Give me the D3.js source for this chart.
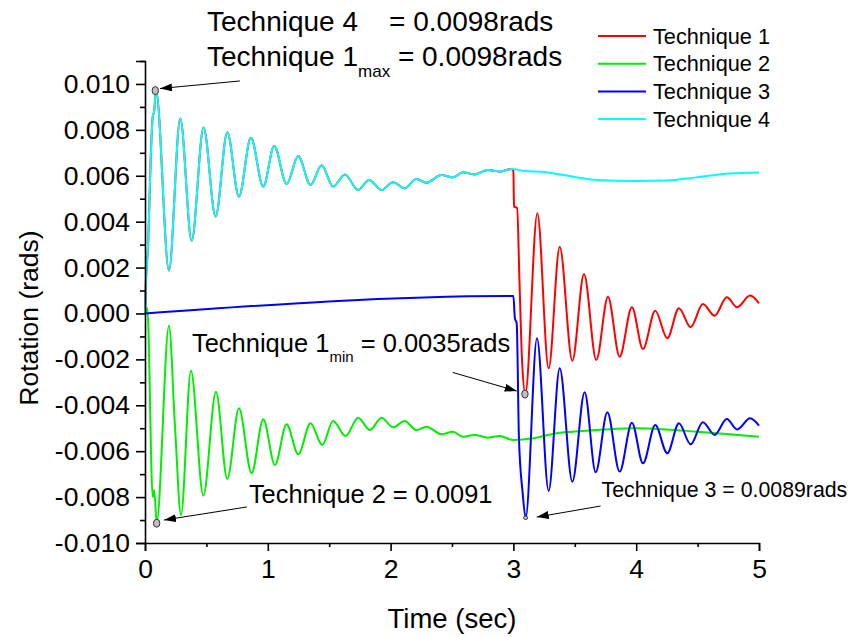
<!DOCTYPE html>
<html>
<head>
<meta charset="utf-8">
<script src="https://cdn.jsdelivr.net/npm/d3@7"></script>
<style>
  body { margin: 0; background: #fff; }
  svg { display: block; font-family: "Liberation Sans", Arial, sans-serif; }
  text { white-space: pre; }
</style>
</head>
<body>
<svg id="chart" width="853" height="637"></svg>
<script>
// ---------------- data ----------------
const seriesNames = ["Technique 1", "Technique 2", "Technique 3", "Technique 4"];

// Technique 4 (cyan)
const t4 = [0, 0.005, 0.027, 0.046, 0.063, 0.074, 0.09, 0.195, 0.287, 0.38, 0.477, 0.575, 0.67, 0.765,
  0.862, 0.963, 1.052, 1.153, 1.248, 1.348, 1.438, 1.532, 1.627, 1.736, 1.825, 1.926, 2.02, 2.115,
  2.21, 2.292, 2.414, 2.508, 2.59, 2.685, 2.793, 2.888, 2.984, 3.078, 3.268, 3.485, 3.675, 4.0,
  4.245, 4.489, 4.76, 5.0];
const v4 = [0, 0.0010, 0.0032, 0.0067, 0.00857, 0.0088, 0.0097, 0.00187, 0.0085, 0.00317, 0.0081,
  0.00422, 0.0079, 0.00509, 0.00766, 0.00553, 0.0073, 0.00564, 0.00686, 0.0056, 0.00646, 0.00553,
  0.00606, 0.00538, 0.00582, 0.00538, 0.00572, 0.00546, 0.00586, 0.0057, 0.00603, 0.00593, 0.00615,
  0.00606, 0.00625, 0.00618, 0.0063, 0.00622, 0.00615, 0.00596, 0.00582, 0.00577, 0.00579, 0.00593,
  0.0061, 0.00614];

// Technique 1 (red): identical to Technique 4 up to t = 2.984 s, then:
const t1After = [3.0, 3.005, 3.03, 3.05, 3.07, 3.097, 3.195, 3.287, 3.377, 3.48, 3.575, 3.675, 3.77,
  3.865, 3.965, 4.055, 4.155, 4.253, 4.348, 4.443, 4.543, 4.638, 4.738, 4.822, 4.928, 5.0];
const v1After = [0.0062, 0.00465, 0.0046, 0.0013, -0.0020, -0.0035, 0.00437, -0.00239, 0.00291,
  -0.00206, 0.00172, -0.00203, 0.00073, -0.00188, 0.00027, -0.00155, 0.00012, -0.00108, 0.00023,
  -0.0006, 0.00041, -0.0001, 0.00071, 0.00027, 0.00078, 0.00044];

// Technique 2 (green)
const t2 = [0, 0.019, 0.063, 0.075, 0.095, 0.195, 0.245, 0.293, 0.374, 0.475, 0.578, 0.67, 0.765,
  0.868, 0.963, 1.058, 1.153, 1.248, 1.348, 1.443, 1.532, 1.633, 1.736, 1.831, 1.926, 2.02, 2.115,
  2.21, 2.292, 2.414, 2.508, 2.59, 2.685, 2.793, 2.888, 2.997, 3.16, 3.322, 3.62, 4.0, 4.245, 4.489,
  4.733, 5.0];
const v2 = [0, 0.00023, -0.0080, -0.0077, -0.0091, -0.00054, -0.0050, -0.00878, -0.0025, -0.00794,
  -0.00341, -0.00721, -0.00413, -0.00696, -0.00461, -0.0066, -0.00483, -0.00614, -0.00478, -0.00573,
  -0.00468, -0.00534, -0.00454, -0.00508, -0.00454, -0.00496, -0.00468, -0.00508, -0.00493, -0.00526,
  -0.00515, -0.00537, -0.00529, -0.00541, -0.00534, -0.00551, -0.00544, -0.00525, -0.0051, -0.005,
  -0.00505, -0.00515, -0.00525, -0.00537];

// Technique 3 (blue)
const t3 = [0, 2.99, 3.0, 3.012, 3.027, 3.045, 3.075, 3.1, 3.192, 3.287, 3.377, 3.48, 3.58, 3.67,
  3.765, 3.865, 3.965, 4.055, 4.155, 4.253, 4.348, 4.443, 4.543, 4.638, 4.738, 4.822, 4.928, 5.0];
const v3 = [0, 0.00076, 0.00076, -0.0002, -0.00043, -0.0054, -0.0078, -0.0089, -0.00108, -0.00773,
  -0.00239, -0.00733, -0.00343, -0.00692, -0.0043, -0.00689, -0.00476, -0.00653, -0.00486, -0.00609,
  -0.00478, -0.0057, -0.00474, -0.00529, -0.0046, -0.00505, -0.00457, -0.00489];

// Axis ticks
const xTicks = [0, 1, 2, 3, 4, 5];
const xMinorTicks = [0.5, 1.5, 2.5, 3.5, 4.5];
const yTicks = [-0.010, -0.008, -0.006, -0.004, -0.002, 0.000, 0.002, 0.004, 0.006, 0.008, 0.010];
const yMinorTicks = [-0.009, -0.007, -0.005, -0.003, -0.001, 0.001, 0.003, 0.005, 0.007, 0.009, 0.011];

// Marked extreme points (data coordinates)
const markerT = [0.084, 3.094, 0.095, 3.1];
const markerV = [0.00971, -0.00351, -0.00914, -0.0089];

// ---------------- chart ----------------
const svg = d3.select("#chart");
const x = d3.scaleLinear().domain([0, 5]).range([145, 759]);
const y = d3.scaleLinear().domain([-0.010, 0.011]).range([543, 61]);

const colors = ["#ff0000", "#00ee00", "#0000ff", "#00ffff"];

const idx4End = t4.indexOf(2.984);
const t1 = t4.slice(0, idx4End + 1).concat(t1After);
const v1 = v4.slice(0, idx4End + 1).concat(v1After);

const series = [
  { t: t1, v: v1 },
  { t: t2, v: v2 },
  { t: t3, v: v3 },
  { t: t4, v: v4 }
];

const line = d3.line()
  .x(d => x(d[0]))
  .y(d => y(d[1]))
  .curve(d3.curveMonotoneX);

series.forEach((s, i) => {
  svg.append("path")
    .datum(s.t.map((tt, k) => [tt, s.v[k]]))
    .attr("fill", "none")
    .attr("stroke", colors[i])
    .attr("stroke-width", 2)
    .attr("stroke-linejoin", "round")
    .attr("d", line);
});

// axes
const fmt = v => d3.format(".3f")(v).replace("\u2212", "-");
const yAxis = d3.axisLeft(y).tickValues(yTicks).tickFormat(fmt).tickSize(9).tickPadding(6);
const yMinor = d3.axisLeft(y).tickValues(yMinorTicks).tickFormat("").tickSize(5);
const xAxis = d3.axisBottom(x).tickValues(xTicks).tickFormat(d3.format("d")).tickSize(8).tickPadding(8);
const xMinor = d3.axisBottom(x).tickValues(xMinorTicks).tickFormat("").tickSize(4);

function styleAxis(g, fs) {
  g.select(".domain").attr("stroke", "#000").attr("stroke-width", 1.6);
  g.selectAll(".tick line").attr("stroke", "#000").attr("stroke-width", 1.6);
  g.selectAll(".tick text").attr("fill", "#000").style("font-size", fs + "px")
    .style("font-family", '"Liberation Sans", Arial, sans-serif');
}

const gy = svg.append("g").attr("transform", `translate(${x(0)},0)`).call(yAxis);
gy.call(g => styleAxis(g, 26.5));
const gym = svg.append("g").attr("transform", `translate(${x(0)},0)`).call(yMinor);
gym.call(g => styleAxis(g, 26.5));
gym.select(".domain").remove();

const gx = svg.append("g").attr("transform", `translate(0,${y(-0.010)})`).call(xAxis);
gx.call(g => styleAxis(g, 26.5));
const gxm = svg.append("g").attr("transform", `translate(0,${y(-0.010)})`).call(xMinor);
gxm.call(g => styleAxis(g, 26.5));
gxm.select(".domain").remove();

// axis titles
svg.append("text")
  .attr("x", (x(0) + x(5)) / 2).attr("y", 628)
  .attr("text-anchor", "middle").style("font-size", "27.5px")
  .text("Time (sec)");
svg.append("text")
  .attr("transform", `translate(38,${(y(-0.010) + y(0.011)) / 2 + 16}) rotate(-90)`)
  .attr("text-anchor", "middle").style("font-size", "26.5px")
  .text("Rotation (rads)");

// legend
const legend = svg.append("g").attr("transform", "translate(598,36)");
seriesNames.forEach((name, i) => {
  const row = legend.append("g").attr("transform", `translate(0,${i * 27.7})`);
  row.append("line").attr("x1", 0).attr("x2", 48).attr("y1", 0).attr("y2", 0)
    .attr("stroke", colors[i]).attr("stroke-width", 2);
  row.append("text").attr("x", 55).attr("y", 7.5).style("font-size", "21.7px").text(name);
});

// markers
markerT.forEach((tt, i) => {
  const small = i === 3;
  svg.append("ellipse")
    .attr("cx", x(tt)).attr("cy", y(markerV[i]))
    .attr("rx", small ? 2 : 3.2).attr("ry", small ? 1.8 : 4)
    .attr("fill", "#c0c0c0").attr("stroke", "#333").attr("stroke-width", 1);
});

// arrows
svg.append("defs").append("marker")
  .attr("id", "ah").attr("viewBox", "0 0 12 8").attr("refX", 12).attr("refY", 4)
  .attr("markerWidth", 12).attr("markerHeight", 8).attr("markerUnits", "userSpaceOnUse")
  .attr("orient", "auto")
  .append("path").attr("d", "M0,0 L12,4 L0,8 Z").attr("fill", "#000");

const arrows = [
  [[0.773, 0.01013], [0.122, 0.0098]],
  [[2.506, -0.00257], [3.027, -0.00338]],
  [[0.83, -0.00843], [0.155, -0.0090]],
  [[3.71, -0.00839], [3.19, -0.00887]]
];
arrows.forEach(a => {
  svg.append("line")
    .attr("x1", x(a[0][0])).attr("y1", y(a[0][1]))
    .attr("x2", x(a[1][0])).attr("y2", y(a[1][1]))
    .attr("stroke", "#000").attr("stroke-width", 1)
    .attr("marker-end", "url(#ah)");
});

// annotation texts
function annot(tt, vv, size, parts) {
  const t = svg.append("text").attr("x", x(tt)).attr("y", y(vv)).style("font-size", size + "px");
  parts.forEach(p => {
    const ts = t.append("tspan").text(p.s);
    if (p.sub) ts.style("font-size", Math.round(size * 0.6) + "px").attr("dy", size * 0.4);
    if (p.back) ts.attr("dy", -size * 0.4);
  });
}
annot(0.505, 0.01231, 28, [{ s: "Technique 4    = 0.0098rads" }]);
annot(0.505, 0.01078, 28, [{ s: "Technique 1" }, { s: "max", sub: true }, { s: " = 0.0098rads", back: true }]);
annot(0.382, -0.00168, 25.5, [{ s: "Technique 1" }, { s: "min", sub: true }, { s: " = 0.0035rads", back: true }]);
annot(0.846, -0.00826, 25.4, [{ s: "Technique 2 = 0.0091" }]);
annot(3.718, -0.0080, 21.3, [{ s: "Technique 3 = 0.0089rads" }]);
</script>
</body>
</html>
